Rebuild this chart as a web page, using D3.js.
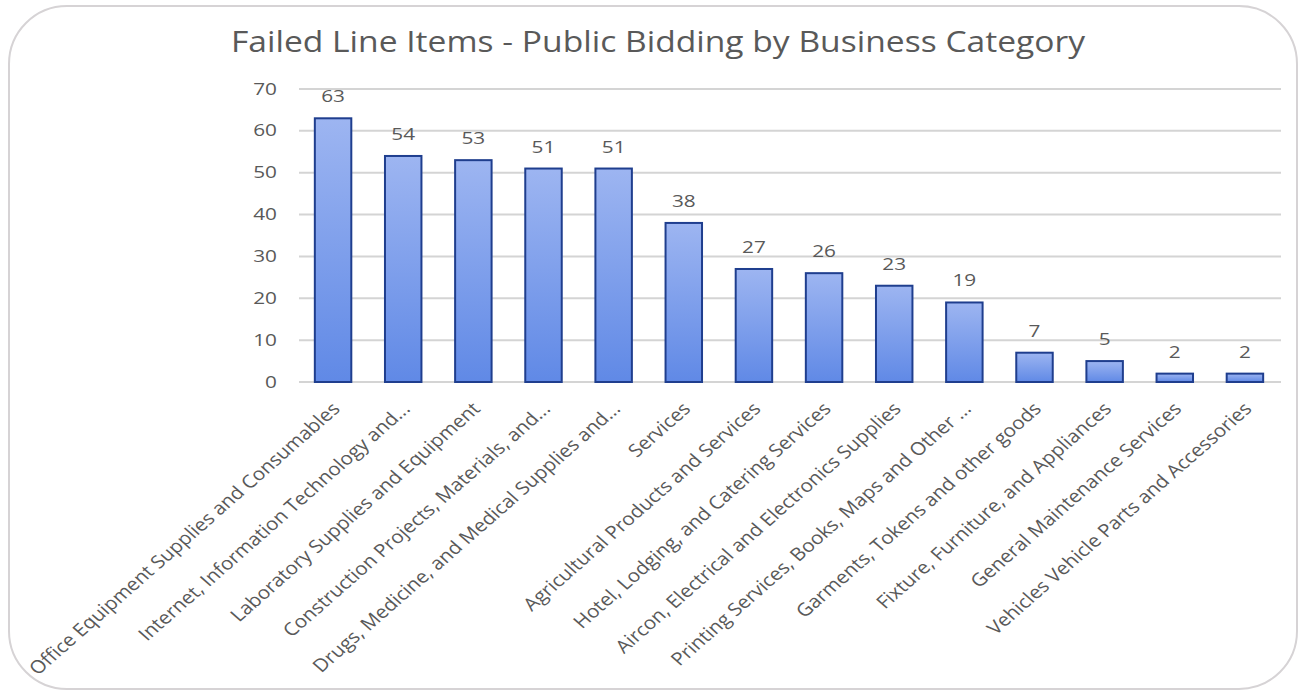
<!DOCTYPE html>
<html><head><meta charset="utf-8">
<script src="https://cdn.jsdelivr.net/npm/d3@7"></script>
<style>body{margin:0;background:#fff;}svg{display:block;font-family:"Open Sans",sans-serif;}</style>
</head><body>
<svg id="c" width="1299" height="692"></svg>
<script>
const categories = ["Office Equipment Supplies and Consumables","Internet, Information Technology and...","Laboratory Supplies and Equipment","Construction Projects, Materials, and...","Drugs, Medicine, and Medical Supplies and...","Services","Agricultural Products and Services","Hotel, Lodging, and Catering Services","Aircon, Electrical and Electronics Supplies","Printing Services, Books, Maps and Other ...","Garments, Tokens and other goods","Fixture, Furniture, and Appliances","General Maintenance Services","Vehicles Vehicle Parts and Accessories"];
const values = [63,54,53,51,51,38,27,26,23,19,7,5,2,2];
const yTicks = [0,10,20,30,40,50,60,70];
const title = "Failed Line Items - Public Bidding by Business Category";

const svg = d3.select("#c");
svg.append("rect").attr("x",9).attr("y",6).attr("width",1288).attr("height",683)
  .attr("rx",58).attr("ry",58).attr("fill","#fff").attr("stroke","#d6d3d5").attr("stroke-width",2);

const defs = svg.append("defs");
const g1 = defs.append("linearGradient").attr("id","bg").attr("x1",0).attr("y1",0).attr("x2",0).attr("y2",1);
g1.append("stop").attr("offset","0%").attr("stop-color","#9db5f1");
g1.append("stop").attr("offset","100%").attr("stop-color","#6089e6");

const x = d3.scaleBand().domain(categories).range([298,1280]).paddingInner(0.48).paddingOuter(0.24);
const y = d3.scaleLinear().domain([0,70]).range([382,89]);

svg.append("text").attr("transform","translate(658,52) scale(1.12,1)").attr("text-anchor","middle")
  .attr("font-size",30).attr("fill","#595959").text(title);

const grid = svg.append("g");
grid.selectAll("line").data(yTicks).join("line")
  .attr("x1",299).attr("x2",1281).attr("y1",d=>y(d)).attr("y2",d=>y(d))
  .attr("stroke","#d4d4d4").attr("stroke-width",2);

const yAxis = d3.axisLeft(y).tickValues(yTicks).tickSize(0).tickPadding(0);
const ya = svg.append("g").attr("transform","translate(277,0)").call(yAxis);
ya.select(".domain").remove();
ya.selectAll("text").attr("font-size",16).attr("fill","#595959").attr("font-family","Open Sans")
  .attr("x",0).attr("transform","scale(1.3,1)");

svg.append("g").selectAll("rect").data(values).join("rect")
  .attr("x",(d,i)=>x(categories[i])).attr("width",x.bandwidth())
  .attr("y",d=>y(d)).attr("height",d=>y(0)-y(d))
  .attr("fill","url(#bg)").attr("stroke","#1f3e8e").attr("stroke-width",2);

svg.append("g").selectAll("text").data(values).join("text")
  .attr("transform",(d,i)=>`translate(${x(categories[i])+x.bandwidth()/2},${y(d)-16}) scale(1.3,1)`)
  .attr("text-anchor","middle").attr("font-size",16).attr("fill","#595959").text(d=>d);

const xAxis = d3.axisBottom(x).tickSize(0).tickPadding(0);
const xa = svg.append("g").attr("transform","translate(0,382)").call(xAxis);
xa.select(".domain").remove();
xa.selectAll("text").attr("font-size",18).attr("fill","#595959").attr("font-family","Open Sans")
  .attr("text-anchor","end").attr("dy",0).attr("y",0)
  .attr("transform","translate(8,28) scale(1.14,1) rotate(-45)");
</script>
</body></html>
